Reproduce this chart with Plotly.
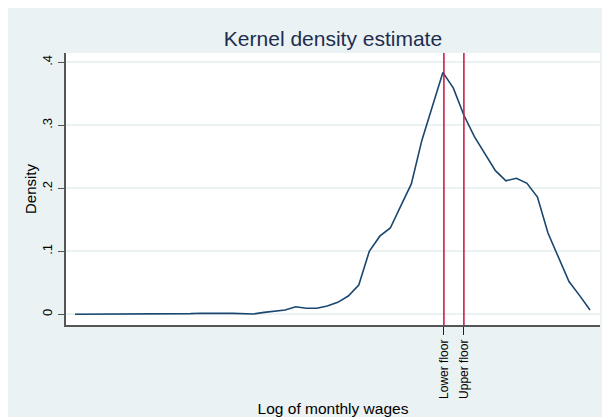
import plotly.graph_objects as go

# Evaluation grid (log of monthly wages) and kernel density values
log_wage = [3.0, 3.2, 3.4, 3.6, 3.8, 4.0, 4.2, 4.4, 4.6, 4.8,
            5.0, 5.2, 5.4, 5.6, 5.8, 6.0, 6.2, 6.4, 6.6, 6.8,
            7.0, 7.2, 7.4, 7.6, 7.8, 8.0, 8.2, 8.4, 8.6, 8.8,
            9.0, 9.2, 9.4, 9.6, 9.8, 10.0, 10.2, 10.4, 10.6, 10.8,
            11.0, 11.2, 11.4, 11.6, 11.8, 12.0, 12.2, 12.4, 12.6, 12.8]
density = [0.0, 0.0, 0.0, 0.0, 0.0, 0.0, 0.0, 0.0, 0.0, 0.0,
           0.0, 0.001, 0.0016, 0.001, 0.0015, 0.0015, 0.001, 0.0005, 0.003, 0.0048,
           0.0068, 0.012, 0.0095, 0.0095, 0.013, 0.019, 0.029, 0.0465, 0.100, 0.124,
           0.137, 0.172, 0.207, 0.276, 0.330, 0.384, 0.359, 0.316, 0.282, 0.254,
           0.228, 0.212, 0.216, 0.208, 0.186, 0.129, 0.091, 0.052, 0.030, 0.0068]

floor_values = [10.02, 10.40]
floor_labels = ["Lower floor", "Upper floor"]
y_ticks = [0, 0.1, 0.2, 0.3, 0.4]
y_tick_labels = ["0", ".1", ".2", ".3", ".4"]

BG = "#EAF2F3"
LINE = "#1A476F"
RED = "#C8204A"
FONT = "Liberation Sans, Arial, sans-serif"

# The page body adds an 8px margin, so the figure is sized to fit the window.
W, H = 602, 409

fig = go.Figure()
fig.add_trace(go.Scatter(x=log_wage, y=density, mode="lines",
                         line=dict(color=LINE, width=1.6), showlegend=False,
                         hoverinfo="skip"))

for v in floor_values:
    fig.add_shape(type="line", xref="x", yref="paper", x0=v, x1=v, y0=0, y1=1,
                  line=dict(color=RED, width=1.6), layer="above")

fig.update_layout(
    width=W, height=H,
    margin=dict(l=58, r=10, t=45, b=92, pad=0, autoexpand=False),
    paper_bgcolor=BG, plot_bgcolor="white",
    font=dict(family=FONT, color="#000000"),
    title=dict(text="Kernel density estimate", x=325 / W, xanchor="center",
               y=1 - 31 / H, yanchor="middle", xref="container", yref="container",
               font=dict(size=21, color="#1E2D4F", family=FONT)),
    xaxis=dict(range=[2.829, 12.99], showgrid=False, zeroline=False,
               automargin=False,
               tickmode="array", tickvals=floor_values, ticktext=floor_labels,
               tickangle=-90, ticks="outside", ticklen=8, tickwidth=1.2,
               tickcolor="#222222", tickfont=dict(size=12, color="#000000"),
               showline=True, linecolor="#555555", linewidth=1.5,
               title=dict(text="Log of monthly wages", standoff=8,
                          font=dict(size=15.5, color="#000000"))),
    yaxis=dict(range=[-0.017, 0.4148], tickmode="array", tickvals=y_ticks,
               automargin=False,
               ticktext=y_tick_labels, tickangle=-90, ticks="outside", ticklen=6,
               tickwidth=1.2, tickcolor="#555555", ticklabelstandoff=1,
               tickfont=dict(size=13, color="#000000"),
               showgrid=True, gridcolor=BG, gridwidth=1.5, zeroline=False,
               showline=True, linecolor="#555555", linewidth=1.5,
               title=dict(text="Density", standoff=0,
                          font=dict(size=15, color="#000000"))),
)

fig.write_html("out.html")
